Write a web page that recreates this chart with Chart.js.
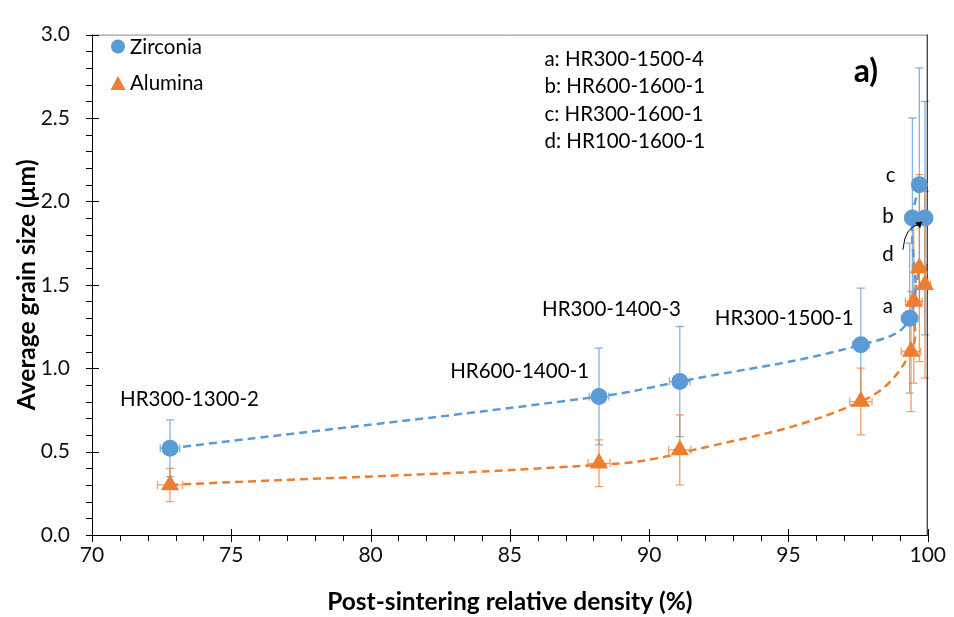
<!DOCTYPE html>
<html>
<head>
<meta charset="utf-8">
<script src="https://cdn.jsdelivr.net/npm/chart.js@4.4.1/dist/chart.umd.min.js"></script>
<style>
  html, body { margin: 0; background: #fff; }
</style>
</head>
<body>
<canvas id="chart" width="954" height="617"></canvas>
<script>
// zirconia points (density %, grain size um) and error bars
const zrX = [72.8, 88.2, 91.1, 97.6, 99.35, 99.45, 99.7, 99.9];
const zrY = [0.52, 0.83, 0.92, 1.14, 1.3, 1.9, 2.1, 1.9];
const zrXErr = [0.35, 0.35, 0.37, 0.3, 0.3, 0.25, 0.25, 0.2];
const zrYErr = [0.17, 0.29, 0.33, 0.34, 0.45, 0.6, 0.7, 0.7];

// alumina points
const alX = [72.8, 88.2, 91.1, 97.6, 99.4, 99.5, 99.7, 99.9];
const alY = [0.3, 0.43, 0.51, 0.8, 1.1, 1.4, 1.6, 1.5];
const alXErr = [0.45, 0.4, 0.4, 0.4, 0.35, 0.3, 0.25, 0.2];
const alYErr = [0.1, 0.14, 0.21, 0.2, 0.36, 0.49, 0.56, 0.56];

// dashed trend curves
const zrTrendX = [72.8, 88.2, 91.1, 97.6, 99.35, 99.45, 99.7];
const zrTrendY = [0.52, 0.83, 0.92, 1.14, 1.3, 1.9, 2.1];
const alTrendX = [72.8, 88.2, 91.1, 97.6, 99.4, 99.5, 99.7];
const alTrendY = [0.3, 0.42, 0.49, 0.8, 1.1, 1.4, 1.6];

const xTicks = [70, 75, 80, 85, 90, 95, 100];
const yTicks = [0, 0.5, 1, 1.5, 2, 2.5, 3];

// text labels at data positions
const sampleLabels = [
  { text: 'HR300-1300-2', x: 73.5, y: 0.815 },
  { text: 'HR600-1400-1', x: 85.35, y: 0.98 },
  { text: 'HR300-1400-3', x: 88.65, y: 1.35 },
  { text: 'HR300-1500-1', x: 94.85, y: 1.3 },
  { text: 'a', x: 98.57, y: 1.37 },
  { text: 'b', x: 98.57, y: 1.91 },
  { text: 'c', x: 98.67, y: 2.155 },
  { text: 'd', x: 98.57, y: 1.68 }
];
const keyLines = ['a: HR300-1500-4', 'b: HR600-1600-1', 'c: HR300-1600-1', 'd: HR100-1600-1'];

const BLUE = '#5B9BD5';
const ORANGE = '#ED7D31';
const FONT = 'Lato, Carlito, "Open Sans", sans-serif';

function pts(xs, ys) {
  return xs.map((x, i) => ({ x: x, y: ys[i] }));
}

function drawErrors(ctx, sx, sy, xs, ys, xe, ye, color) {
  ctx.save();
  ctx.strokeStyle = color;
  ctx.lineWidth = 1.3;
  for (let i = 0; i < xs.length; i++) {
    const px = sx.getPixelForValue(xs[i]);
    const py = sy.getPixelForValue(ys[i]);
    const t = sy.getPixelForValue(ys[i] + ye[i]);
    const b = sy.getPixelForValue(ys[i] - ye[i]);
    const l = sx.getPixelForValue(xs[i] - xe[i]);
    const r = sx.getPixelForValue(xs[i] + xe[i]);
    ctx.beginPath();
    ctx.moveTo(px, t); ctx.lineTo(px, b);
    ctx.moveTo(px - 4, t); ctx.lineTo(px + 4, t);
    ctx.moveTo(px - 4, b); ctx.lineTo(px + 4, b);
    ctx.moveTo(l, py); ctx.lineTo(r, py);
    ctx.moveTo(l, py - 4); ctx.lineTo(l, py + 4);
    ctx.moveTo(r, py - 4); ctx.lineTo(r, py + 4);
    ctx.stroke();
  }
  ctx.restore();
}

const extras = {
  id: 'extras',
  beforeDatasetsDraw(chart) {
    const ctx = chart.ctx;
    const sx = chart.scales.x, sy = chart.scales.y;
    const a = chart.chartArea;
    drawErrors(ctx, sx, sy, zrX, zrY, zrXErr, zrYErr, 'rgba(91,155,213,0.75)');
    drawErrors(ctx, sx, sy, alX, alY, alXErr, alYErr, 'rgba(237,125,49,0.75)');

    // frame
    ctx.save();
    ctx.lineWidth = 1;
    ctx.strokeStyle = '#888';
    ctx.beginPath();
    ctx.moveTo(a.left, a.top + 0.5); ctx.lineTo(a.right, a.top + 0.5);
    ctx.stroke();
    ctx.strokeStyle = '#000';
    ctx.beginPath();
    ctx.moveTo(a.right - 0.5, a.top); ctx.lineTo(a.right - 0.5, a.bottom);
    ctx.stroke();
    ctx.strokeStyle = '#000';
    ctx.beginPath();
    ctx.moveTo(a.left + 0.5, a.top); ctx.lineTo(a.left + 0.5, a.bottom);
    ctx.moveTo(a.left, a.bottom + 0.5); ctx.lineTo(a.right, a.bottom + 0.5);
    // y ticks
    for (let v = 0; v <= 30; v++) {
      const py = Math.round(sy.getPixelForValue(v / 10)) + 0.5;
      if (v % 5 === 0) {
        ctx.moveTo(a.left - 6, py); ctx.lineTo(a.left + 7, py);
      } else {
        ctx.moveTo(a.left - 6, py); ctx.lineTo(a.left, py);
      }
    }
    // x ticks
    for (let v = 70; v <= 100; v++) {
      const px = Math.round(sx.getPixelForValue(v)) + 0.5;
      if (v % 5 === 0) {
        ctx.moveTo(px, a.bottom - 6); ctx.lineTo(px, a.bottom + 7);
      } else {
        ctx.moveTo(px, a.bottom); ctx.lineTo(px, a.bottom + 6);
      }
    }
    ctx.stroke();
    ctx.restore();
  },
  afterDatasetsDraw(chart) {
    const ctx = chart.ctx;
    const sx = chart.scales.x, sy = chart.scales.y;
    ctx.save();
    ctx.fillStyle = '#000';
    ctx.font = '20.5px ' + FONT;
    ctx.textAlign = 'center';
    ctx.textBaseline = 'middle';
    sampleLabels.forEach(l => {
      ctx.fillText(l.text, sx.getPixelForValue(l.x), sy.getPixelForValue(l.y));
    });

    ctx.textAlign = 'left';
    keyLines.forEach((t, i) => {
      ctx.fillText(t, sx.getPixelForValue(86.24), sy.getPixelForValue(2.85 - i * 0.163));
    });

    ctx.font = 'bold 32px ' + FONT;
    ctx.textAlign = 'center';
    ctx.fillText('a)', sx.getPixelForValue(97.78), sy.getPixelForValue(2.78));

    // legend
    ctx.font = '20.5px ' + FONT;
    ctx.textAlign = 'left';
    ctx.fillStyle = BLUE;
    ctx.beginPath();
    ctx.arc(118, 46.5, 7, 0, Math.PI * 2);
    ctx.fill();
    ctx.fillStyle = ORANGE;
    ctx.beginPath();
    ctx.moveTo(118, 76); ctx.lineTo(125.5, 90); ctx.lineTo(110.5, 90);
    ctx.closePath();
    ctx.fill();
    ctx.fillStyle = '#000';
    ctx.fillText('Zirconia', 130, 47);
    ctx.fillText('Alumina', 130, 83);

    // arrow from d to the hidden point
    const x0 = sx.getPixelForValue(99.11), y0 = sy.getPixelForValue(1.71);
    const x1 = sx.getPixelForValue(99.8), y1 = sy.getPixelForValue(1.88);
    ctx.strokeStyle = '#000';
    ctx.lineWidth = 1;
    ctx.beginPath();
    ctx.moveTo(x0, y0);
    ctx.quadraticCurveTo(x0 + 2, y1 + 4, x1 - 2, y1 + 3);
    ctx.stroke();
    ctx.beginPath();
    ctx.moveTo(x1, y1);
    ctx.lineTo(x1 - 7, y1 + 1);
    ctx.lineTo(x1 - 2, y1 + 7);
    ctx.closePath();
    ctx.fill();
    ctx.restore();
  }
};

new Chart(document.getElementById('chart').getContext('2d'), {
  type: 'scatter',
  data: {
    datasets: [
      {
        label: 'Zirconia',
        data: pts(zrX, zrY),
        pointStyle: 'circle',
        pointRadius: 8.5,
        backgroundColor: BLUE,
        borderColor: BLUE,
        borderWidth: 0,
        clip: false,
        order: 1
      },
      {
        label: 'Alumina',
        data: pts(alX, alY),
        pointStyle: 'triangle',
        pointRadius: 10.5,
        backgroundColor: ORANGE,
        borderColor: ORANGE,
        borderWidth: 0,
        clip: false,
        order: 2
      },
      {
        label: 'Zirconia trend',
        data: pts(zrTrendX, zrTrendY),
        showLine: true,
        pointRadius: 0,
        borderColor: BLUE,
        borderWidth: 2.5,
        borderDash: [8, 5],
        tension: 0.4,
        order: 3
      },
      {
        label: 'Alumina trend',
        data: pts(alTrendX, alTrendY),
        showLine: true,
        pointRadius: 0,
        borderColor: ORANGE,
        borderWidth: 2.5,
        borderDash: [8, 5],
        tension: 0.4,
        order: 4
      }
    ]
  },
  options: {
    responsive: false,
    animation: false,
    layout: { padding: { left: 0, right: 25, top: 20, bottom: 0 } },
    plugins: {
      legend: { display: false },
      tooltip: { enabled: false }
    },
    scales: {
      x: {
        type: 'linear',
        min: 70,
        max: 100,
        afterFit: s => { s.height = 82; },
        afterBuildTicks: s => { s.ticks = xTicks.map(v => ({ value: v })); },
        grid: { display: false, drawTicks: false },
        border: { display: false },
        ticks: {
          padding: 8,
          color: '#111',
          font: { family: FONT, size: 21 }
        },
        title: {
          display: true,
          text: 'Post-sintering relative density (%)',
          color: '#000',
          font: { family: FONT, size: 24.5, weight: 'bold' },
          padding: { top: 0, bottom: 0 }
        }
      },
      y: {
        type: 'linear',
        min: 0,
        max: 3,
        afterFit: s => { s.width = 92; },
        afterBuildTicks: s => { s.ticks = yTicks.map(v => ({ value: v })); },
        grid: { display: false, drawTicks: false },
        border: { display: false },
        ticks: {
          padding: 22,
          color: '#111',
          font: { family: FONT, size: 21 },
          callback: v => v.toFixed(1)
        },
        title: {
          display: true,
          text: 'Average grain size (μm)',
          color: '#000',
          font: { family: FONT, size: 24.5, weight: 'bold' },
          padding: { top: 12, bottom: 0 }
        }
      }
    }
  },
  plugins: [extras]
});
</script>
</body>
</html>
